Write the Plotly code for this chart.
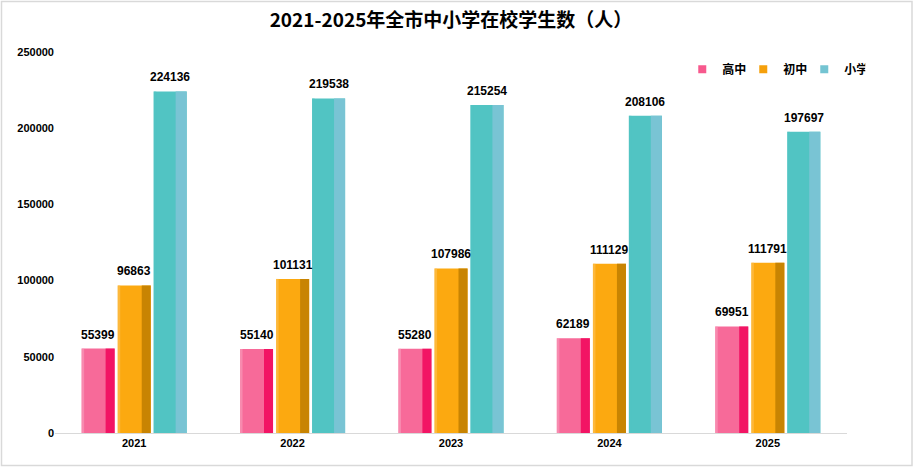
import plotly.graph_objects as go

years = ["2021", "2022", "2023", "2024", "2025"]
series_names = ["高中", "初中", "小学"]
high = [55399, 55140, 55280, 62189, 69951]
middle = [96863, 101131, 107986, 111129, 111791]
primary = [224136, 219538, 215254, 208106, 197697]
y_ticks = [0, 50000, 100000, 150000, 200000, 250000]

values = [high, middle, primary]
front_colors = ["#F76A99", "#FCA910", "#51C4C3"]
edge_colors = ["#F9A0BE", "#FDC359", "#51C4C3"]
strip_colors = ["#F21464", "#C88402", "#79C4D4"]
legend_colors = ["#F7598D", "#F5A00C", "#74C4D2"]
offsets = [-0.332, -0.104, 0.123]
bar_w = 0.2085
strip_w = [0.057, 0.057, 0.07]
edge_w = 0.016

FONT = "Liberation Sans, Noto Sans CJK SC, sans-serif"
xs = list(range(len(years)))

fig = go.Figure()
for i, name in enumerate(series_names):
    fig.add_trace(go.Bar(
        x=xs, y=values[i], name=name, offset=offsets[i], width=bar_w,
        marker=dict(color=front_colors[i], line=dict(width=0)),
        showlegend=False, hoverinfo="skip",
    ))
    fig.add_trace(go.Bar(
        x=xs, y=values[i], name=name + "_edge", offset=offsets[i], width=edge_w,
        marker=dict(color=edge_colors[i], line=dict(width=0), opacity=0.6),
        showlegend=False, hoverinfo="skip",
    ))
    fig.add_trace(go.Bar(
        x=xs, y=values[i], name=name + "_side",
        offset=offsets[i] + bar_w - strip_w[i], width=strip_w[i],
        marker=dict(color=strip_colors[i], line=dict(width=0)),
        showlegend=False, hoverinfo="skip",
    ))

for i, name in enumerate(series_names):
    fig.add_trace(go.Scatter(
        x=[None], y=[None], mode="markers", name=f"<b>{name}</b>",
        marker=dict(symbol="square", size=8, color=legend_colors[i]),
        showlegend=True, hoverinfo="skip",
    ))

annotations = []
for i in range(len(series_names)):
    for j, v in enumerate(values[i]):
        annotations.append(dict(
            x=xs[j] + offsets[i] + bar_w / 2, y=v, xref="x", yref="y",
            text=f"<b>{v}</b>", showarrow=False, yanchor="bottom",
            yshift=5, font=dict(family=FONT, size=12, color="#000000"),
        ))

fig.update_layout(
    width=914, height=467,
    margin=dict(l=55, r=67, t=52, b=34, autoexpand=False),
    paper_bgcolor="white", plot_bgcolor="white",
    barmode="overlay",
    title=dict(text="<b>2021-2025年全市中小学在校学生数（人）</b>",
               x=0.5, xref="paper", xanchor="center", y=0.957, yanchor="middle",
               font=dict(family="Noto Sans CJK SC, sans-serif", size=19, color="#000000")),
    font=dict(family=FONT, size=11, color="#000000"),
    xaxis=dict(range=[-0.5, 4.5], tickvals=xs, ticktext=[f"<b>{y}</b>" for y in years],
               showgrid=False, zeroline=False, showline=True, linecolor="#D9D9D9",
               linewidth=1, ticks="", automargin=False,
               tickfont=dict(family=FONT, size=11, color="#000000")),
    yaxis=dict(range=[0, 250000], tickvals=y_ticks, ticktext=[f"<b>{t}</b>" for t in y_ticks],
               showgrid=False, zeroline=False, showline=False, ticks="", automargin=False,
               tickfont=dict(family=FONT, size=11, color="#000000")),
    legend=dict(orientation="h", x=0.792, y=0.955, xanchor="left", yanchor="middle",
                font=dict(family="Noto Sans CJK SC, sans-serif", size=12, color="#000000"),
                itemwidth=30, entrywidth=16, entrywidthmode="pixels",
                bgcolor="rgba(0,0,0,0)"),
    annotations=annotations,
    shapes=[dict(type="rect", xref="paper", yref="paper",
                 x0=(1.5 - 55) / 792, x1=(912 - 55) / 792,
                 y0=(433 - 465.5) / 381, y1=(433 - 1.5) / 381,
                 line=dict(color="#D9D9D9", width=1.5), fillcolor="rgba(0,0,0,0)", layer="below")],
)
fig.write_html("out.html", config={"displayModeBar": False},
               post_script="document.body.style.margin='0';document.body.style.overflow='hidden';")
